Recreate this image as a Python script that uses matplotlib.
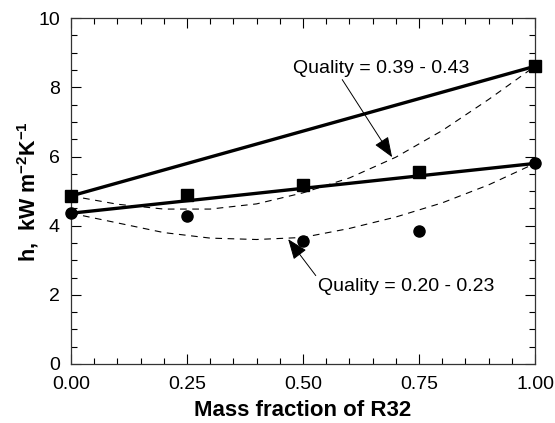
import matplotlib
matplotlib.use("Agg")
import matplotlib.pyplot as plt
from matplotlib.ticker import MultipleLocator

plt.rcParams['font.family'] = ['Liberation Sans', 'DejaVu Sans']
plt.rcParams['mathtext.fontset'] = 'custom'
plt.rcParams['mathtext.rm'] = 'Liberation Sans'
plt.rcParams['mathtext.bf'] = 'Liberation Sans:bold'

# Data
mass_fraction = [0.00, 0.25, 0.50, 0.75, 1.00]
h_high_quality = [4.86, 4.89, 5.17, 5.56, 8.61]   # squares, quality 0.39-0.43
h_low_quality = [4.36, 4.28, 3.56, 3.85, 5.80]    # circles, quality 0.20-0.23

solid_x = [0.0, 1.0]
solid_high = [4.86, 8.61]
solid_low = [4.36, 5.80]

dash_x = [0.0, 0.1, 0.2, 0.3, 0.4, 0.5, 0.6, 0.7, 0.8, 0.9, 1.0]
dash_high = [4.86, 4.62, 4.48, 4.48, 4.63, 4.95, 5.38, 5.98, 6.75, 7.65, 8.61]
dash_low = [4.36, 4.08, 3.80, 3.64, 3.60, 3.66, 3.92, 4.25, 4.66, 5.18, 5.80]

xticks = [0.00, 0.25, 0.50, 0.75, 1.00]
xticklabels = ['0.00', '0.25', '0.50', '0.75', '1.00']
yticks = [0, 2, 4, 6, 8, 10]

fig = plt.figure(figsize=(5.55, 4.23), dpi=100)
ax = fig.add_axes([0.128, 0.1395, 0.836, 0.8175])

ax.plot(dash_x, dash_high, color='black', lw=0.8, ls=(0, (6, 5)))
ax.plot(dash_x, dash_low, color='black', lw=0.8, ls=(0, (6, 5)))
ax.plot(solid_x, solid_high, color='black', lw=2.4, solid_capstyle='butt')
ax.plot(solid_x, solid_low, color='black', lw=2.4, solid_capstyle='butt')
ax.plot(mass_fraction, h_high_quality, 's', color='black', ms=9, clip_on=False, zorder=5)
ax.plot(mass_fraction, h_low_quality, 'o', color='black', ms=8, clip_on=False, zorder=5)

ax.annotate('Quality = 0.39 - 0.43', xy=(0.692, 5.98), xytext=(0.478, 8.55),
            fontsize=14, va='center', ha='left',
            arrowprops=dict(arrowstyle='-|>,head_length=0.9,head_width=0.35', color='black', lw=0.7,
                            shrinkA=0, shrinkB=0, relpos=(0.27, 0.0)))
ax.annotate('Quality = 0.20 - 0.23', xy=(0.468, 3.61), xytext=(0.532, 2.23),
            fontsize=14, va='center', ha='left',
            arrowprops=dict(arrowstyle='-|>,head_length=0.9,head_width=0.35', color='black', lw=0.7,
                            shrinkA=0, shrinkB=0, relpos=(0.0, 1.0)))

ax.set_xlim(0, 1)
ax.set_ylim(0, 10)
ax.set_xticks(xticks)
ax.set_xticklabels(xticklabels)
ax.set_yticks(yticks)
ax.xaxis.set_minor_locator(MultipleLocator(0.05))
ax.yaxis.set_minor_locator(MultipleLocator(0.5))
ax.tick_params(which='both', direction='in', top=True, right=True, labelsize=14)
ax.tick_params(axis='x', pad=9)
ax.tick_params(axis='y', pad=8)
ax.tick_params(which='major', length=7, width=0.8)
ax.tick_params(which='minor', length=4, width=0.8)
for s in ax.spines.values():
    s.set_linewidth(0.9)
    s.set_color('#333333')

ax.set_xlabel('Mass fraction of R32', fontsize=16, fontweight='bold', labelpad=5)
ax.set_ylabel(r'h,  kW m$^{\mathbf{-2}}$K$^{\mathbf{-1}}$', fontsize=15.5, fontweight='bold', labelpad=-2)

fig.savefig('out.png', dpi=100)
